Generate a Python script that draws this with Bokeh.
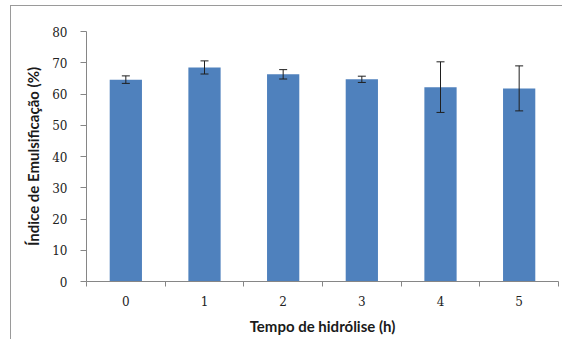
from bokeh.plotting import figure
from bokeh.models import Range1d, FixedTicker, ColumnDataSource, Whisker, TeeHead
from bokeh.embed import file_html
from bokeh.resources import INLINE

hours = ["0", "1", "2", "3", "4", "5"]
values = [64.6, 68.5, 66.3, 64.7, 62.2, 61.8]
errors = [1.2, 2.1, 1.5, 1.0, 8.1, 7.2]
y_ticks = [0, 10, 20, 30, 40, 50, 60, 70, 80]

xs = list(range(len(hours)))
src = ColumnDataSource(dict(
    x=xs, top=values,
    upper=[v + e for v, e in zip(values, errors)],
    lower=[v - e for v, e in zip(values, errors)],
))

p = figure(frame_width=472, frame_height=250, output_backend="svg", toolbar_location=None,
           x_range=Range1d(-0.5, len(hours) - 0.5), y_range=Range1d(0, 80),
           min_border_left=86, min_border_right=4, min_border_top=31, min_border_bottom=58)
p.outline_line_color = None
p.grid.visible = False
p.border_fill_color = None
p.background_fill_color = "white"
p.styles = {
    "background": ("linear-gradient(#9a9a9a,#9a9a9a) 10px 5px / 1px 100% no-repeat, "
                   "linear-gradient(#9a9a9a,#9a9a9a) 10px 5px / 100% 1px no-repeat, white"),
}

p.vbar(x="x", top="top", width=0.41, bottom=0, source=src,
       fill_color="#4F81BD", line_color=None)

w = Whisker(base="x", upper="upper", lower="lower", source=src, level="overlay",
            line_color="#1f1f1f", line_width=1,
            upper_head=TeeHead(size=8, line_color="#1f1f1f", line_width=1),
            lower_head=TeeHead(size=8, line_color="#1f1f1f", line_width=1))
p.add_layout(w)

axis_gray = "#868686"
tick_font = "DejaVu Serif"
label_font = "Lato"

xa = p.xaxis[0]
xa.ticker = FixedTicker(ticks=xs, minor_ticks=[i - 0.5 for i in range(len(hours) + 1)])
xa.major_label_overrides = {i: h for i, h in enumerate(hours)}
xa.major_tick_line_color = None
xa.major_tick_out = 0
xa.major_tick_in = 0
xa.minor_tick_out = 5
xa.minor_tick_in = 0
xa.minor_tick_line_color = axis_gray
xa.axis_line_color = axis_gray
xa.major_label_text_font = tick_font
xa.major_label_text_font_size = "12px"
xa.major_label_text_color = "#222222"
xa.major_label_standoff = 9
xa.axis_label = "Tempo de hidrólise (h)"
xa.axis_label_text_font = label_font
xa.axis_label_text_font_style = "bold"
xa.axis_label_text_font_size = "15px"
xa.axis_label_text_color = "#1a1a1a"
xa.axis_label_standoff = 8

ya = p.yaxis[0]
ya.ticker = FixedTicker(ticks=y_ticks, minor_ticks=[])
ya.major_tick_out = 6
ya.major_tick_in = 0
ya.major_tick_line_color = axis_gray
ya.minor_tick_line_color = None
ya.axis_line_color = axis_gray
ya.major_label_text_font = tick_font
ya.major_label_text_font_size = "12px"
ya.major_label_text_color = "#222222"
ya.major_label_standoff = 13
ya.axis_label = "Índice de Emulsificação (%)"
ya.axis_label_text_font = label_font
ya.axis_label_text_font_style = "bold"
ya.axis_label_text_font_size = "15px"
ya.axis_label_text_color = "#1a1a1a"
ya.axis_label_standoff = 7

open("out.html", "w").write(file_html(p, INLINE))
